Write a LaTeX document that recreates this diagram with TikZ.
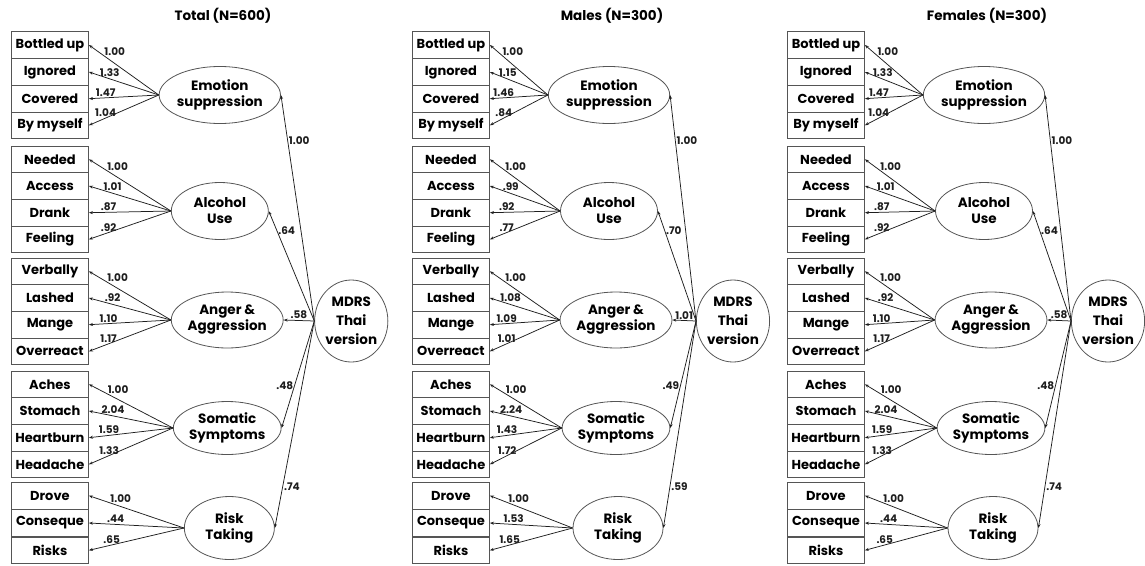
\documentclass[tikz,border=0pt]{standalone}
\usepackage{fontspec}
\setmainfont{Poppins}
\usetikzlibrary{arrows.meta,shapes.geometric}
\definecolor{ln}{RGB}{30,30,30}
\definecolor{bx}{RGB}{85,85,85}

\tikzset{
  obs/.style={draw=bx,line width=.9pt,minimum width=77pt,minimum height=26.7pt,anchor=west,inner sep=1pt,font=\fontsize{13}{15}\selectfont\bfseries},
  lat/.style={draw=bx,ellipse,line width=.8pt,align=center,inner sep=0pt,font=\fontsize{13.5}{16}\selectfont\bfseries},
  ld/.style={ln,line width=.75pt,-{Stealth[length=4pt,width=3pt]}},
  lv/.style={font=\fontsize{10.5}{12}\selectfont\bfseries,inner sep=1pt},
  ttl/.style={font=\fontsize{13.5}{15}\selectfont\bfseries}
}

% #1 prefix, #2 shift, #3 xscale, #4 title, #5 loadings, #6 paths
\newcommand{\sempanel}[6]{%
\begin{scope}[xshift=#2,xscale=#3]
  \node[ttl] (#1-t) at (200,16) {#4};
  \foreach \lbl/\yy [count=\idx] in {Bottled up/45,Ignored/72,Covered/98.7,By myself/125.3,
      Needed/159.3,Access/186,Drank/212.7,Feeling/239.3,
      Verbally/271.3,Lashed/298,Mange/324.7,Overreact/351.3,
      Aches/384.3,Stomach/411,Heartburn/437.7,Headache/464.3,
      Drove/495.7,Conseque/523,Risks/550.3}
    \node[obs] (#1-b\idx) at (0,\yy) {\lbl};
  \node[lat,minimum width=112pt,minimum height=57pt] (#1-f1) at (197,95) {Emotion\\suppression};
  \node[lat,minimum width=97pt,minimum height=57pt] (#1-f2) at (197,211) {Alcohol\\Use};
  \node[lat,minimum width=108pt,minimum height=56pt] (#1-f3) at (204,320) {Anger \&\\Aggression};
  \node[lat,minimum width=102pt,minimum height=53pt] (#1-f4) at (204,428) {Somatic\\Symptoms};
  \node[lat,minimum width=90pt,minimum height=63pt] (#1-f5) at (206,528) {Risk\\Taking};
  \node[lat,minimum width=70pt,minimum height=82pt] (#1-m) at (321,321) {MDRS\\[3pt]Thai\\[3pt]version};
  % loadings
  \foreach \val [count=\idx] in {#5} {
    \pgfmathtruncatemacro\fa{min(int((\idx-1)/4)+1,5)}
    \pgfmathtruncatemacro\rw{mod(\idx-1,4)}
    \pgfmathsetmacro\dx{max(0,9-5*\rw)}
    \draw[ld] (#1-f\fa.west) -- node[lv,pos=.76,above,xshift=\dx pt] {\val} (#1-b\idx.east);
  }
  % second order paths
  \foreach \val/\pp/\anc [count=\idx] in {#6}
    \draw[ld] (#1-m.west) -- node[lv,pos=\pp,anchor=\anc] {\val} (#1-f\idx.east);
\end{scope}}

\begin{document}
\begin{tikzpicture}[x=1pt,y=-1pt]
  \useasboundingbox (0,0) rectangle (1145,565);
  \sempanel{tot}{11pt}{1.06}{Total (N=600)}
    {1.00,1.33,1.47,1.04,1.00,1.01,.87,.92,1.00,.92,1.10,1.17,1.00,2.04,1.59,1.33,1.00,.44,.65}
    {1.00/.8/west,.64/.82/west,.58/.5/south,.48/.6/east,.74/.8/west}
  \sempanel{mal}{412pt}{1}{Males (N=300)}
    {1.00,1.15,1.46,.84,1.00,.99,.92,.77,1.00,1.08,1.09,1.01,1.00,2.24,1.43,1.72,1.00,1.53,1.65}
    {1.00/.8/west,.70/.82/west,1.01/.5/south,.49/.6/east,.59/.8/west}
  \sempanel{fem}{787pt}{1}{Females (N=300)}
    {1.00,1.33,1.47,1.04,1.00,1.01,.87,.92,1.00,.92,1.10,1.17,1.00,2.04,1.59,1.33,1.00,.44,.65}
    {1.00/.8/west,.64/.82/west,.58/.5/south,.48/.6/east,.74/.8/west}
\end{tikzpicture}
\end{document}
